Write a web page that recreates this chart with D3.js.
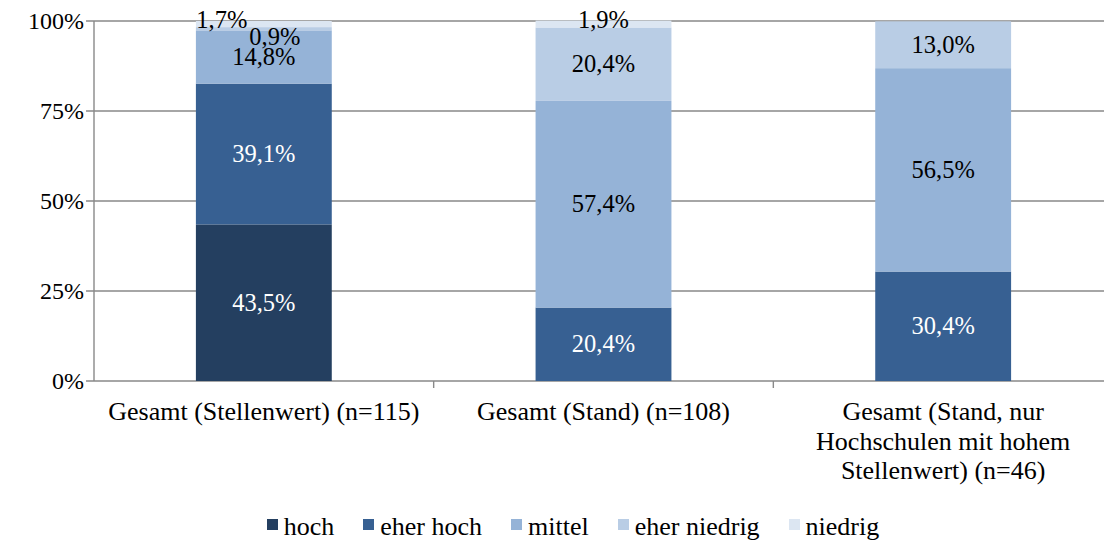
<!doctype html>
<html>
<head>
<meta charset="UTF-8">
<script src="https://d3js.org/d3.v7.min.js"></script>
<style>
    body { margin: 0; background: #fff; }
    #chart { position: relative; width: 1104px; height: 542px; overflow: hidden; }
    #chart svg { position: absolute; left: 0; top: 0; }
    .lbl {
        position: absolute; white-space: nowrap; color: #000;
        font-family: "Liberation Serif", Tinos, "Times New Roman", "DejaVu Serif";
    }
</style>
</head>
<body>
<div id="chart"></div>
<script>
// categories and series (percent)
var categories = [
    "Gesamt (Stellenwert) (n=115)",
    "Gesamt (Stand) (n=108)",
    "Gesamt (Stand, nur Hochschulen mit hohem Stellenwert) (n=46)"
];
var categoryLines = [
    ["Gesamt (Stellenwert) (n=115)"],
    ["Gesamt (Stand) (n=108)"],
    ["Gesamt (Stand, nur", "Hochschulen mit hohem", "Stellenwert) (n=46)"]
];
var seriesNames = ["hoch", "eher hoch", "mittel", "eher niedrig", "niedrig"];
var hoch = [43.5, 0, 0];
var eherHoch = [39.1, 20.4, 30.4];
var mittel = [14.8, 57.4, 56.5];
var eherNiedrig = [0.9, 20.4, 13.0];
var niedrig = [1.7, 1.9, 0];
var yTicks = [0, 25, 50, 75, 100];

var colors = ["#243f60", "#376092", "#95b3d7", "#b9cde5", "#dce6f2"];
var labelColors = ["#fff", "#fff", "#000", "#000", "#000"];

var W = 1104, H = 542;
var margin = {top: 21, right: -9, bottom: 161, left: 94};

var chart = d3.select("#chart");
var svg = chart.append("svg").attr("width", W).attr("height", H);
// text layer (html) on top of the svg
var layer = chart.append("div")
    .style("position", "absolute").style("left", "0px").style("top", "0px")
    .style("width", W + "px").style("height", H + "px");

var x = d3.scaleBand()
    .domain(categories)
    .range([margin.left, W - margin.right])
    .paddingInner(0.6).paddingOuter(0.3);

var y = d3.scaleLinear()
    .domain([0, 100])
    .range([H - margin.bottom, margin.top]);

// gridlines
svg.append("g")
    .selectAll("line")
    .data(yTicks)
    .enter().append("line")
    .attr("x1", margin.left - 8)
    .attr("x2", W)
    .attr("y1", function (d) { return y(d); })
    .attr("y2", function (d) { return y(d); })
    .attr("stroke", "#898989")
    .attr("stroke-width", 1.4);

// y axis line
svg.append("line")
    .attr("x1", margin.left).attr("x2", margin.left)
    .attr("y1", y(0)).attr("y2", y(100))
    .attr("stroke", "#898989").attr("stroke-width", 1.4);

// y tick labels
layer.selectAll("div.ytick")
    .data(yTicks)
    .enter().append("div")
    .attr("class", "lbl ytick")
    .style("font-size", "24px").style("line-height", "24px")
    .style("right", (W - margin.left + 10) + "px")
    .style("top", function (d) { return (y(d) - 12.5) + "px"; })
    .text(function (d) { return d + "%"; });

// category separators
var step = x.step();
var sepX = d3.range(categories.length + 1).map(function (i) {
    return margin.left + i * step;
});
svg.append("g").selectAll("line")
    .data(sepX.slice(1))
    .enter().append("line")
    .attr("x1", function (d) { return d; })
    .attr("x2", function (d) { return d; })
    .attr("y1", y(0)).attr("y2", y(0) + 7)
    .attr("stroke", "#898989").attr("stroke-width", 1.4);

// stack
var rows = categories.map(function (c, i) {
    return {cat: c, hoch: hoch[i], "eher hoch": eherHoch[i], mittel: mittel[i],
        "eher niedrig": eherNiedrig[i], niedrig: niedrig[i]};
});
var stacked = d3.stack().keys(seriesNames)(rows);

// manual label nudges for tiny segments
var nudge = {
    "eher niedrig|0": [11, 8],
    "niedrig|0": [-42, -4],
    "niedrig|1": [0, -4]
};

stacked.forEach(function (s, si) {
    svg.append("g").selectAll("rect")
        .data(s)
        .enter().append("rect")
        .attr("x", function (d) { return x(d.data.cat); })
        .attr("width", x.bandwidth())
        .attr("y", function (d) { return y(d[1]); })
        .attr("height", function (d) { return y(d[0]) - y(d[1]); })
        .attr("fill", colors[si]);

    layer.selectAll("div.v" + si)
        .data(s.filter(function (d) { return d[1] - d[0] > 0; }))
        .enter().append("div")
        .attr("class", "lbl v" + si)
        .style("font-size", "24.5px").style("line-height", "24.5px")
        .style("color", labelColors[si])
        .style("left", function (d) {
            var n = nudge[s.key + "|" + categories.indexOf(d.data.cat)] || [0, 0];
            return (x(d.data.cat) + x.bandwidth() / 2 + n[0]) + "px";
        })
        .style("top", function (d) {
            var n = nudge[s.key + "|" + categories.indexOf(d.data.cat)] || [0, 0];
            return ((y(d[0]) + y(d[1])) / 2 + n[1]) + "px";
        })
        .style("transform", "translate(-50%, -50%)")
        .text(function (d) { return d3.format(".1f")(d[1] - d[0]).replace(".", ",") + "%"; });
});

// category labels
layer.selectAll("div.cat")
    .data(categories)
    .enter().append("div")
    .attr("class", "lbl cat")
    .style("font-size", "26px").style("line-height", "29.5px")
    .style("text-align", "center")
    .style("left", function (d) { return (x(d) + x.bandwidth() / 2) + "px"; })
    .style("top", (y(0) + 16) + "px")
    .style("transform", "translateX(-50%)")
    .html(function (d, i) { return categoryLines[i].join("<br>"); });

// legend
var legend = layer.append("div")
    .style("position", "absolute")
    .style("left", "0px").style("width", (2 * 573) + "px")
    .style("top", "514px")
    .style("text-align", "center");
seriesNames.forEach(function (name, i) {
    var it = legend.append("span")
        .attr("class", "lbl")
        .style("position", "static")
        .style("font-size", "26px").style("line-height", "26px")
        .style("margin-right", i < seriesNames.length - 1 ? "29px" : "0px");
    it.append("span")
        .style("display", "inline-block")
        .style("width", "11px").style("height", "11px")
        .style("vertical-align", "5px")
        .style("margin-right", "6px")
        .style("background", colors[i]);
    it.append("span").text(name);
});
</script>
</body>
</html>
